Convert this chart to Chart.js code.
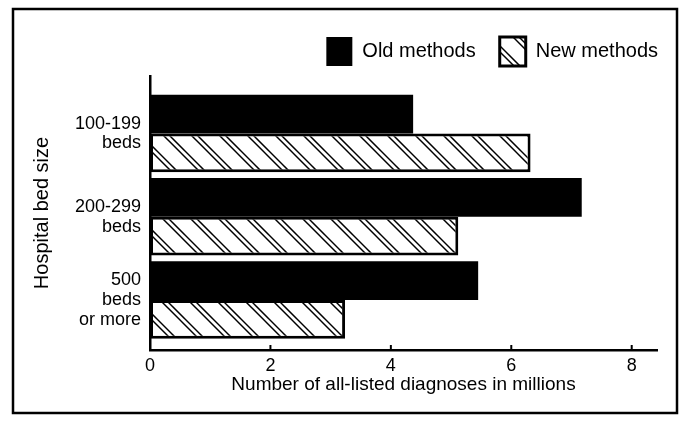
<!DOCTYPE html>
<html>
<head>
<meta charset="utf-8">
<title>Hospital bed size</title>
<script src="https://cdn.jsdelivr.net/npm/chart.js@4.4.1/dist/chart.umd.min.js"></script>
<style>
  html, body { margin: 0; padding: 0; background: #fff; }
  #wrap { width: 682px; height: 421px; }
</style>
</head>
<body>
<div id="wrap"><canvas id="chart" width="682" height="421"></canvas></div>
<script>
// Chart data
const categories = [['100-199', 'beds'], ['200-299', 'beds'], ['500', 'beds', 'or more']];
const oldMethods = [4.37, 7.17, 5.45];
const newMethods = [6.32, 5.12, 3.24];
const seriesNames = ['Old methods', 'New methods'];
const xTicks = [0, 2, 4, 6, 8];
const xTitle = 'Number of all-listed diagnoses in millions';
const yTitle = 'Hospital bed size';

const FONT = "'Liberation Sans', Arial, sans-serif";

/**
 * Diagonal double-line hatch used for the "New methods" bars
 */
const makeHatch = (ctx) => {
  const size = 28;
  const tile = document.createElement('canvas');
  tile.width = size;
  tile.height = size;
  const g = tile.getContext('2d');
  g.fillStyle = '#fff';
  g.fillRect(0, 0, size, size);
  g.strokeStyle = '#000';
  g.lineWidth = 1.5;
  [0, 6].forEach(o => {
    [-size, 0, size].forEach(k => {
      g.beginPath();
      g.moveTo(o + k - 3, -3);
      g.lineTo(o + k + size + 3, size + 3);
      g.stroke();
    });
  });
  return ctx.createPattern(tile, 'repeat');
};

// small ticks pointing up into the plot
const innerTicks = {
  id: 'innerTicks',
  afterDraw(chart) {
    const { ctx, scales: { x } } = chart;
    ctx.save();
    ctx.strokeStyle = '#000';
    ctx.lineWidth = 2;
    xTicks.slice(1).forEach(v => {
      const px = x.getPixelForValue(v);
      ctx.beginPath();
      ctx.moveTo(px, x.top);
      ctx.lineTo(px, x.top - 5);
      ctx.stroke();
    });
    ctx.restore();
  }
};

// outer box round the figure
const frame = {
  id: 'frame',
  afterDraw(chart) {
    const { ctx } = chart;
    ctx.save();
    ctx.strokeStyle = '#000';
    ctx.lineWidth = 2.5;
    ctx.strokeRect(13, 9, 664, 404);
    ctx.restore();
  }
};

const canvas = document.getElementById('chart');
const ctx = canvas.getContext('2d');
const hatch = makeHatch(ctx);

Chart.defaults.font.family = FONT;
Chart.defaults.color = '#000';

new Chart(ctx, {
  type: 'bar',
  data: {
    datasets: [
      {
        label: seriesNames[0],
        data: oldMethods.map((v, i) => ({ x: v, y: i })),
        backgroundColor: '#000',
        borderWidth: 0,
        categoryPercentage: 0.93,
        barPercentage: 1
      },
      {
        label: seriesNames[1],
        data: newMethods.map((v, i) => ({ x: v, y: i })),
        backgroundColor: hatch,
        borderColor: '#000',
        borderWidth: 3,
        borderSkipped: false,
        categoryPercentage: 0.93,
        barPercentage: 1
      }
    ]
  },
  options: {
    indexAxis: 'y',
    responsive: false,
    animation: false,
    layout: { padding: { top: 13, left: 0, right: 0, bottom: 0 } },
    plugins: {
      legend: {
        position: 'top',
        align: 'end',
        labels: {
          boxWidth: 26,
          boxHeight: 29,
          padding: 24,
          color: '#000',
          font: { size: 20, family: FONT }
        }
      },
      tooltip: { enabled: false }
    },
    scales: {
      x: {
        type: 'linear',
        min: 0,
        max: 8.42,
        afterBuildTicks: s => { s.ticks = xTicks.map(v => ({ value: v })); },
        afterFit: s => { s.height = 71; s.paddingRight = 25; },
        grid: { display: false, drawTicks: false },
        border: { display: true, color: '#000', width: 2.5 },
        ticks: { padding: 5, color: '#000', font: { size: 18, family: FONT } },
        title: {
          display: true,
          text: xTitle,
          color: '#000',
          font: { size: 19, family: FONT },
          padding: { top: 0, bottom: 25 }
        }
      },
      y: {
        type: 'linear',
        reverse: true,
        offset: false,
        min: -0.69,
        max: 2.6,
        afterBuildTicks: s => { s.ticks = categories.map((c, i) => ({ value: i })); },
        afterFit: s => { s.width = 150; },
        grid: { display: false, drawTicks: false },
        border: { display: true, color: '#000', width: 2.5 },
        ticks: {
          padding: 9,
          color: '#000',
          font: { size: 18, family: FONT, lineHeight: 1.1 },
          callback: v => categories[v]
        },
        title: {
          display: true,
          text: yTitle,
          color: '#000',
          font: { size: 20, family: FONT },
          padding: { top: 30, bottom: 0 }
        }
      }
    }
  },
  plugins: [innerTicks, frame]
});
</script>
</body>
</html>
